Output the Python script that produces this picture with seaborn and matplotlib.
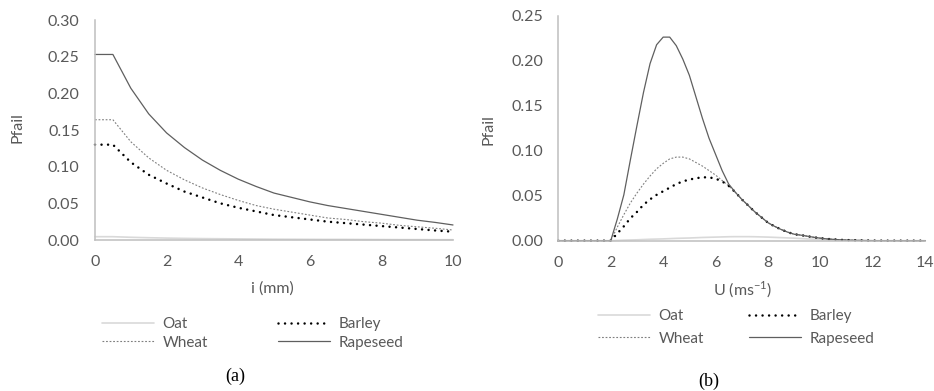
import numpy as np
import pandas as pd
import matplotlib
matplotlib.use("Agg")
import matplotlib.pyplot as plt
import seaborn as sns

# ---------------- data: panel (a) ----------------
i_mm = [0, 0.5, 1, 1.5, 2, 2.5, 3, 3.5, 4, 4.5, 5, 5.5, 6, 6.5, 7, 7.5, 8, 8.5, 9, 9.5, 10]
a_oat = [0.0045, 0.0045, 0.0037, 0.0031, 0.0026, 0.0022, 0.0019, 0.0017, 0.0015, 0.0013, 0.0011,
         0.0010, 0.0009, 0.0008, 0.0008, 0.0007, 0.0006, 0.0005, 0.0005, 0.0004, 0.0004]
a_barley = [0.130, 0.130, 0.106, 0.089, 0.077, 0.066, 0.058, 0.050, 0.044, 0.039, 0.034,
            0.031, 0.028, 0.025, 0.023, 0.021, 0.019, 0.017, 0.015, 0.013, 0.0113]
a_wheat = [0.164, 0.164, 0.134, 0.112, 0.095, 0.082, 0.071, 0.062, 0.054, 0.047, 0.042,
           0.038, 0.034, 0.030, 0.028, 0.025, 0.023, 0.020, 0.018, 0.016, 0.0136]
a_rapeseed = [0.253, 0.253, 0.207, 0.172, 0.146, 0.126, 0.109, 0.095, 0.083, 0.073, 0.064,
              0.058, 0.052, 0.047, 0.043, 0.039, 0.035, 0.031, 0.027, 0.024, 0.0205]

# ---------------- data: panel (b) ----------------
u_ms = [0, 0.5, 1, 1.5, 2, 2.25, 2.5, 2.75, 3, 3.25, 3.5, 3.75, 4, 4.25, 4.5, 4.75, 5, 5.25,
        5.5, 5.75, 6, 6.25, 6.5, 6.75, 7, 7.25, 7.5, 7.75, 8, 8.25, 8.5, 8.75, 9, 9.25, 9.5,
        9.75, 10, 10.25, 10.5, 10.75, 11, 11.25, 11.5, 11.75, 12, 12.5, 13, 13.5, 14]
b_tail = [0.054, 0.046, 0.039, 0.032, 0.026, 0.020, 0.016, 0.0125, 0.0095, 0.0072, 0.0062, 0.0050,
          0.0038, 0.0028, 0.0020, 0.0015, 0.0010, 0.0007, 0.0005, 0.0003, 0.0002, 0.0001, 0, 0, 0, 0]
b_oat = [0, 0, 0, 0, 0, 0.0003, 0.0006, 0.0008, 0.0010, 0.0013, 0.0016, 0.0018, 0.0020, 0.0023,
         0.0026, 0.0028, 0.0030, 0.0033, 0.0036, 0.0038, 0.0040, 0.0042, 0.0044, 0.0045, 0.0045,
         0.0045, 0.0044, 0.0042, 0.0040, 0.0037, 0.0034, 0.0031, 0.0028, 0.0024, 0.0020, 0.0017,
         0.0014, 0.0011, 0.0008, 0.0006, 0.0004, 0.0002, 0.0001, 0, 0, 0, 0, 0, 0]
b_barley = [0, 0, 0, 0, 0, 0.008, 0.016, 0.025, 0.032, 0.040, 0.046, 0.051, 0.055, 0.059, 0.063,
            0.066, 0.068, 0.0695, 0.0705, 0.0705, 0.069, 0.066, 0.061] + b_tail
b_wheat = [0, 0, 0, 0, 0, 0.015, 0.029, 0.042, 0.053, 0.063, 0.072, 0.080, 0.086, 0.091, 0.093,
           0.093, 0.091, 0.087, 0.083, 0.078, 0.073, 0.067, 0.061] + b_tail
b_rapeseed = [0, 0, 0, 0, 0, 0.024, 0.051, 0.090, 0.128, 0.165, 0.197, 0.218, 0.2265, 0.2265,
              0.217, 0.202, 0.184, 0.160, 0.136, 0.114, 0.096, 0.078, 0.063] + b_tail

series_names = ["Oat", "Wheat", "Barley", "Rapeseed"]
xticks_a = [0, 2, 4, 6, 8, 10]
xticks_b = [0, 2, 4, 6, 8, 10, 12, 14]
yticks_a = [0.00, 0.05, 0.10, 0.15, 0.20, 0.25, 0.30]
yticks_b = [0.00, 0.05, 0.10, 0.15, 0.20, 0.25]

# ---------------- styling ----------------
sns.set_theme(style="white")
plt.rcParams["font.family"] = ["Lato", "DejaVu Sans"]
plt.rcParams["mathtext.fontset"] = "custom"
plt.rcParams["mathtext.rm"] = "Lato"
TXT = "#595959"
SPINE = "#bfbfbf"
FS = 11.5
LFS = 11

styles = {
    "Oat": dict(color="#d9d9d9", linewidth=1.2, linestyle="-"),
    "Wheat": dict(color="#7f7f7f", linewidth=0.8, linestyle=(0, (1.6, 1.6))),
    "Barley": dict(color="black", linewidth=1.8, linestyle=(0, (0.01, 2.6)),
                   dash_capstyle="round"),
    "Rapeseed": dict(color="#5f5f5f", linewidth=0.9, linestyle="-"),
}

fig = plt.figure(figsize=(9.34, 3.91), dpi=100)
ax1 = fig.add_axes([95 / 934, (391 - 240) / 391, 358 / 934, 220 / 391])
ax2 = fig.add_axes([558.3 / 934, (391 - 240.7) / 391, 367 / 934, 224.7 / 391])

df_a = pd.DataFrame({"x": i_mm, "Oat": a_oat, "Wheat": a_wheat, "Barley": a_barley,
                     "Rapeseed": a_rapeseed})
df_b = pd.DataFrame({"x": u_ms, "Oat": b_oat, "Wheat": b_wheat, "Barley": b_barley,
                     "Rapeseed": b_rapeseed})


def draw(ax, df, xlim, ylim, xticks, yticks):
    handles = {}
    for name in ["Oat", "Wheat", "Barley", "Rapeseed"]:
        sns.lineplot(data=df, x="x", y=name, ax=ax, label=name, **styles[name])
        handles[name] = ax.get_lines()[-1]
    ax.set_xlim(*xlim)
    ax.set_ylim(*ylim)
    ax.set_xticks(xticks)
    ax.set_yticks(yticks)
    ax.set_xticklabels([f"{t:g}" for t in xticks])
    ax.set_yticklabels([f"{t:.2f}" for t in yticks])
    ax.tick_params(axis="both", length=0, labelsize=FS, labelcolor=TXT, pad=11)
    for s in ["top", "right"]:
        ax.spines[s].set_visible(False)
    for s in ["left", "bottom"]:
        ax.spines[s].set_color(SPINE)
        ax.spines[s].set_linewidth(1.1)
    ax.grid(False)
    for ln in ax.get_lines():
        ln.set_clip_on(False)
        ln.set_solid_joinstyle("round")
    return [handles[n] for n in series_names]


h1 = draw(ax1, df_a, (0, 10), (0, 0.30), xticks_a, yticks_a)
h2 = draw(ax2, df_b, (0, 14), (0, 0.25), xticks_b, yticks_b)

ax1.set_xlabel("i (mm)", fontsize=FS, color=TXT)
ax1.xaxis.set_label_coords(0.496, -0.19)
ax1.set_ylabel("Pfail", fontsize=FS, color=TXT)
ax1.yaxis.set_label_coords(-0.196, 0.509)

ax2.set_xlabel("U (ms$^{\\mathregular{-1}}$)", fontsize=FS, color=TXT)
ax2.xaxis.set_label_coords(0.503, -0.175)
ax2.set_ylabel("Pfail", fontsize=FS, color=TXT)
ax2.yaxis.set_label_coords(-0.170, 0.493)

leg1 = ax1.legend(h1, series_names, loc="upper left", bbox_to_anchor=(0.0196, -0.35),
                  ncol=2, frameon=False, fontsize=LFS, handlelength=3.4, handletextpad=0.55,
                  columnspacing=4.6, labelspacing=0.3, borderpad=0, borderaxespad=0)
leg2 = ax2.legend(h2, series_names, loc="upper left", bbox_to_anchor=(0.108, -0.305),
                  ncol=2, frameon=False, fontsize=LFS, handlelength=3.4, handletextpad=0.55,
                  columnspacing=3.0, labelspacing=0.55, borderpad=0, borderaxespad=0)
for leg in (leg1, leg2):
    for t in leg.get_texts():
        t.set_color(TXT)

fig.text(235 / 934, 1 - 376.7 / 391, "(a)", ha="center", va="center", fontsize=13,
         family="Liberation Serif", color="black")
fig.text(709 / 934, 1 - 381.7 / 391, "(b)", ha="center", va="center", fontsize=13,
         family="Liberation Serif", color="black")

fig.savefig("out.png", dpi=100)
